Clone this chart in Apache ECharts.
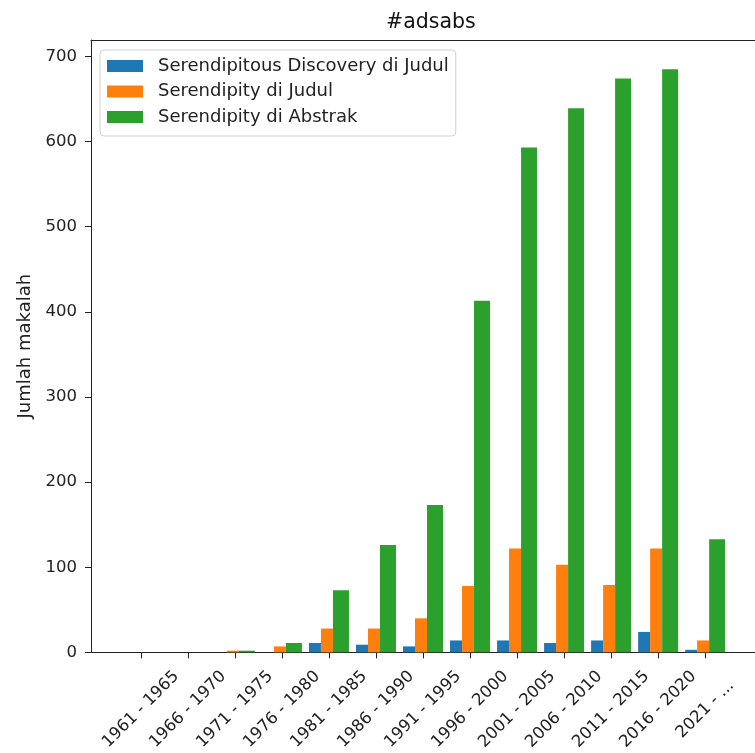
<!DOCTYPE html>
<html>
<head>
<meta charset="utf-8">
<script src="https://cdn.jsdelivr.net/npm/echarts@6/dist/echarts.min.js"></script>
<style>
  html, body { margin: 0; padding: 0; background: #fff; }
  #chart { width: 755px; height: 753px; }
</style>
</head>
<body>
<div id="chart"></div>
<script>
const periods = [
  "1961 - 1965", "1966 - 1970", "1971 - 1975", "1976 - 1980", "1981 - 1985",
  "1986 - 1990", "1991 - 1995", "1996 - 2000", "2001 - 2005", "2006 - 2010",
  "2011 - 2015", "2016 - 2020", "2021 - ..."
];
const discoveryTitle = [0, 0, 0, 0, 11, 9, 7, 14, 14, 11, 14, 24, 3];
const serendipityTitle = [0, 0, 2, 7, 28, 28, 40, 78, 122, 103, 79, 122, 14];
const serendipityAbstract = [0, 0, 2, 11, 73, 126, 173, 413, 593, 639, 674, 685, 133];
const yTicks = [0, 100, 200, 300, 400, 500, 600, 700];

const chart = echarts.init(document.getElementById("chart"));
const font = "DejaVu Sans";
const idx = periods.map((_, i) => i);

const series = [
  { name: "Serendipitous Discovery di Judul", data: discoveryTitle, color: "#1f77b4", width: 12 },
  { name: "Serendipity di Judul", data: serendipityTitle, color: "#ff7f0e", width: 12 },
  { name: "Serendipity di Abstrak", data: serendipityAbstract, color: "#2ca02c", width: 16 },
];

const option = {
  animation: false,
  textStyle: { fontFamily: font },
  title: {
    text: "#adsabs",
    left: 381,
    top: 7,
    textStyle: { fontFamily: font, fontSize: 20.5, fontWeight: "normal", color: "#111" },
  },
  legend: {
    orient: "vertical",
    left: 100,
    top: 50,
    itemWidth: 36,
    itemHeight: 12,
    itemGap: 7.5,
    padding: [7, 7, 10, 7],
    borderColor: "#d0d0d0",
    borderWidth: 1,
    borderRadius: 4,
    icon: "rect",
    textStyle: { fontFamily: font, fontSize: 18, color: "#222", padding: [0, 0, 0, 10] },
    data: series.map((s) => s.name),
  },
  grid: { left: 91, top: 40, width: 671, bottom: 100 },
  xAxis: [
    {
      type: "value",
      min: -1.06,
      max: 13.06,
      splitLine: { show: false },
      axisLine: { show: true, onZero: false, lineStyle: { color: "#222", width: 1 } },
      axisTick: { show: true, length: 6, customValues: idx, lineStyle: { color: "#222" } },
      axisLabel: {
        customValues: idx,
        rotate: 45,
        align: "center",
        verticalAlign: "middle",
        margin: 57,
        fontFamily: font,
        fontSize: 16.5,
        color: "#222",
        formatter: (v) => periods[Math.round(v)],
      },
    },
    {
      type: "value",
      position: "top",
      min: -1.06,
      max: 13.06,
      splitLine: { show: false },
      axisLine: { show: true, onZero: false, lineStyle: { color: "#222", width: 1 } },
      axisTick: { show: false },
      axisLabel: { show: false },
    },
  ],
  yAxis: {
    type: "value",
    min: 0,
    max: 719.25,
    name: "Jumlah makalah",
    nameLocation: "middle",
    nameGap: 57,
    nameTextStyle: { fontFamily: font, fontSize: 18, color: "#222" },
    splitLine: { show: false },
    axisLine: { show: true, onZero: false, lineStyle: { color: "#222", width: 1 } },
    axisTick: { show: true, length: 6, customValues: yTicks, lineStyle: { color: "#222" } },
    axisLabel: { customValues: yTicks, margin: 14, fontFamily: font, fontSize: 16.5, color: "#222" },
  },
  series: series.map((s) => ({
    name: s.name,
    type: "bar",
    xAxisIndex: 0,
    barWidth: s.width,
    barGap: "0%",
    itemStyle: { color: s.color },
    data: s.data.map((v, i) => [i, v]),
  })),
};

chart.setOption(option);
</script>
</body>
</html>
